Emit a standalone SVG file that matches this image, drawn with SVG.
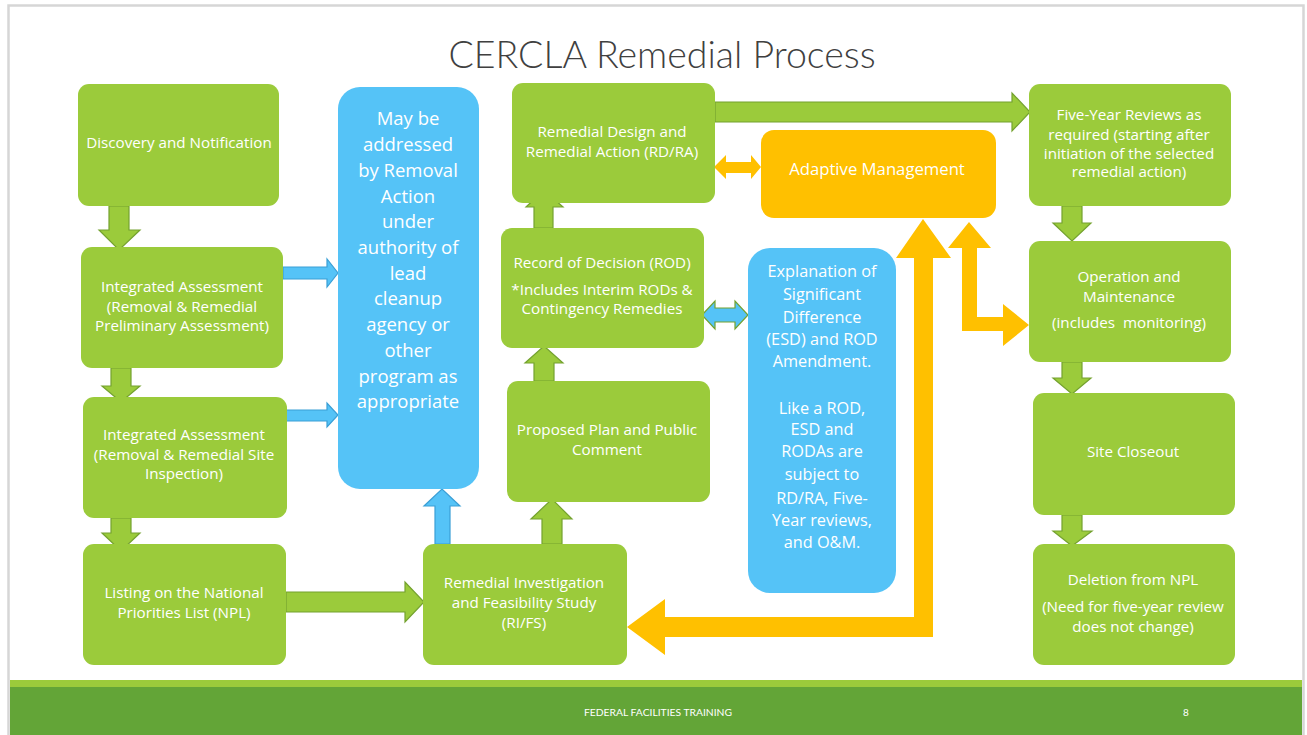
<svg xmlns="http://www.w3.org/2000/svg" width="1307" height="735" viewBox="0 0 1307 735">
  <style>
    .box { fill: #9BCB3B; }
    .blue { fill: #55C3F7; }
    .orange { fill: #FFC000; }
    .garrow { fill: #9BCB3B; stroke: #74A22F; stroke-width: 1.2; }
    .barrow { fill: #55C3F7; stroke: #3A9FD6; stroke-width: 1.2; }
    .bgarrow { fill: #55C3F7; stroke: #74A22F; stroke-width: 1.2; }
    .oarrow { fill: #FFC000; }
    text { font-family: "Open Sans", Lato, "Liberation Sans", sans-serif; fill: #FFFFFF; text-anchor: middle; }
    .t { font-size: 15.2px; }
    .tb { font-size: 18.5px; }
    .te { font-size: 16.3px; }
    .ta { font-size: 16.7px; }
    .title { font-family: Lato, "Open Sans", sans-serif; font-size: 37.5px; font-weight: 300; fill: #404040; }
    .foot { font-family: Lato, "Liberation Sans", sans-serif; font-size: 10px; }
  </style>

  <!-- slide background and frame -->
  <rect x="0" y="0" width="1307" height="735" fill="#FFFFFF"/>
  <rect x="8.5" y="5.5" width="1295" height="740" fill="#FFFFFF" stroke="#D6D6D6" stroke-width="2.5"/>

  <!-- footer band -->
  <rect x="10" y="680" width="1292" height="7" fill="#9BCB3B"/>
  <rect x="10" y="687" width="1292" height="48" fill="#63A537"/>
  <text class="foot" x="658" y="716" textLength="148" lengthAdjust="spacingAndGlyphs">FEDERAL FACILITIES TRAINING</text>
  <text class="foot" x="1186" y="716">8</text>

  <text class="title" x="662" y="68">CERCLA Remedial Process</text>

  <!-- connectors -->
  <g id="connectors">
    <!-- left column, downward -->
    <polygon class="garrow" points="109,206 129,206 129,230 140,230 119,250 99,230 109,230"/>
    <polygon class="garrow" points="111,368 131,368 131,386 140,386 121,402 102,386 111,386"/>
    <polygon class="garrow" points="111,518 131,518 131,533 140,533 121,551 102,533 111,533"/>
    <!-- assessments to removal box -->
    <polygon class="barrow" points="283,267 327,267 327,259 338,273 327,287 327,279 283,279"/>
    <polygon class="barrow" points="283,410 327,410 327,403 338,415 327,427 327,421 283,421"/>
    <!-- RI/FS up to removal box -->
    <polygon class="barrow" points="435,544 435,506 424,506 442,489 460,506 450,506 450,544"/>
    <!-- NPL listing to RI/FS -->
    <polygon class="garrow" points="286,592 405,592 405,582 424,602 405,622 405,612 286,612"/>
    <!-- RI/FS up to proposed plan -->
    <polygon class="garrow" points="542,544 542,519 531,519 552,499 572,519 562,519 562,544"/>
    <!-- proposed plan up to ROD -->
    <polygon class="garrow" points="534,381 534,363 525,363 544,346 563,363 554,363 554,381"/>
    <!-- ROD up to RD/RA -->
    <polygon class="garrow" points="534,228 534,207 526,207 544,190 563,207 553,207 553,228"/>
    <!-- RD/RA to five-year reviews -->
    <polygon class="garrow" points="715,102 1012,102 1012,93 1030,112 1012,131 1012,122 715,122"/>
    <!-- right column, downward -->
    <polygon class="garrow" points="1062,206 1082,206 1082,223 1091,223 1072,241 1053,223 1062,223"/>
    <polygon class="garrow" points="1062,362 1082,362 1082,378 1091,378 1072,394 1053,378 1062,378"/>
    <polygon class="garrow" points="1062,515 1082,515 1082,531 1092,531 1072,546 1053,531 1062,531"/>
    <!-- ROD <-> ESD -->
    <polygon class="bgarrow" points="702,315 715,301 715,308 735,308 735,301 748,315 735,329 735,322 715,322 715,329"/>
    <!-- RD/RA <-> adaptive management -->
    <polygon class="oarrow" points="714,167 726,155 726,162 751,162 751,155 761,167 751,179 751,173 726,173 726,179"/>
    <!-- adaptive management loop back to RI/FS -->
    <polygon class="oarrow" points="627,627 665,599 665,617 914,617 914,258 896,258 923,219 951,258 933,258 933,637 665,637 665,655"/>
    <!-- adaptive management <-> O&M -->
    <polygon class="oarrow" points="969,222 991,248 977,248 977,317 1003,317 1003,304 1029,325 1003,346 1003,331 962,331 962,248 948,248"/>
  </g>

  <!-- nodes -->
  <g id="discovery">
    <rect class="box" x="78" y="84" width="201" height="122" rx="11"/>
    <text class="t" x="179" y="148">Discovery and Notification</text>
  </g>
  <g id="ia-pa">
    <rect class="box" x="81" y="247" width="202" height="121" rx="11"/>
    <text class="t" x="182" y="292">Integrated Assessment</text>
    <text class="t" x="182" y="312">(Removal &amp; Remedial</text>
    <text class="t" x="182" y="331">Preliminary Assessment)</text>
  </g>
  <g id="ia-si">
    <rect class="box" x="83" y="397" width="204" height="121" rx="11"/>
    <text class="t" x="184" y="440">Integrated Assessment</text>
    <text class="t" x="184" y="460">(Removal &amp; Remedial Site</text>
    <text class="t" x="184" y="479">Inspection)</text>
  </g>
  <g id="npl-listing">
    <rect class="box" x="83" y="544" width="203" height="121" rx="11"/>
    <text class="t" x="184" y="598">Listing on the National</text>
    <text class="t" x="184" y="618">Priorities List (NPL)</text>
  </g>
  <g id="removal-action">
    <rect class="blue" x="338" y="87" width="141" height="402" rx="22"/>
    <text class="tb" x="408" y="125">May be</text>
    <text class="tb" x="408" y="151">addressed</text>
    <text class="tb" x="408" y="177">by Removal</text>
    <text class="tb" x="408" y="203">Action</text>
    <text class="tb" x="408" y="228">under</text>
    <text class="tb" x="408" y="254">authority of</text>
    <text class="tb" x="408" y="280">lead</text>
    <text class="tb" x="408" y="305">cleanup</text>
    <text class="tb" x="408" y="331">agency or</text>
    <text class="tb" x="408" y="357">other</text>
    <text class="tb" x="408" y="383">program as</text>
    <text class="tb" x="408" y="408">appropriate</text>
  </g>
  <g id="rifs">
    <rect class="box" x="423" y="544" width="204" height="121" rx="11"/>
    <text class="t" x="524" y="588">Remedial Investigation</text>
    <text class="t" x="524" y="608">and Feasibility Study</text>
    <text class="t" x="524" y="628">(RI/FS)</text>
  </g>
  <g id="proposed-plan">
    <rect class="box" x="507" y="381" width="203" height="121" rx="11"/>
    <text class="t" x="607" y="435">Proposed Plan and Public</text>
    <text class="t" x="607" y="455">Comment</text>
  </g>
  <g id="rod">
    <rect class="box" x="501" y="228" width="203" height="120" rx="11"/>
    <text class="t" x="602" y="268">Record of Decision (ROD)</text>
    <text class="t" x="602" y="295">*Includes Interim RODs &amp;</text>
    <text class="t" x="602" y="314">Contingency Remedies</text>
  </g>
  <g id="rdra">
    <rect class="box" x="512" y="83" width="203" height="120" rx="11"/>
    <text class="t" x="612" y="137">Remedial Design and</text>
    <text class="t" x="612" y="157">Remedial Action (RD/RA)</text>
  </g>
  <g id="adaptive-management">
    <rect class="orange" x="761" y="130" width="235" height="88" rx="13"/>
    <text class="ta" x="877" y="175">Adaptive Management</text>
  </g>
  <g id="esd">
    <rect class="blue" x="748" y="248" width="148" height="345" rx="22"/>
    <text class="te" x="822" y="277">Explanation of</text>
    <text class="te" x="822" y="300">Significant</text>
    <text class="te" x="822" y="323">Difference</text>
    <text class="te" x="822" y="345">(ESD) and ROD</text>
    <text class="te" x="822" y="367">Amendment.</text>
    <text class="te" x="822" y="414">Like a ROD,</text>
    <text class="te" x="822" y="435">ESD and</text>
    <text class="te" x="822" y="457">RODAs are</text>
    <text class="te" x="822" y="480">subject to</text>
    <text class="te" x="822" y="504">RD/RA, Five-</text>
    <text class="te" x="822" y="526">Year reviews,</text>
    <text class="te" x="822" y="548">and O&amp;M.</text>
  </g>
  <g id="five-year-reviews">
    <rect class="box" x="1029" y="84" width="202" height="122" rx="11"/>
    <text class="t" x="1129" y="120">Five-Year Reviews as</text>
    <text class="t" x="1129" y="140">required (starting after</text>
    <text class="t" x="1129" y="159">initiation of the selected</text>
    <text class="t" x="1129" y="177">remedial action)</text>
  </g>
  <g id="operation-maintenance">
    <rect class="box" x="1029" y="241" width="202" height="121" rx="11"/>
    <text class="t" x="1129" y="282">Operation and</text>
    <text class="t" x="1129" y="302">Maintenance</text>
    <text class="t" x="1129" y="328" xml:space="preserve">(includes  monitoring)</text>
  </g>
  <g id="site-closeout">
    <rect class="box" x="1033" y="393" width="202" height="122" rx="11"/>
    <text class="t" x="1133" y="457">Site Closeout</text>
  </g>
  <g id="npl-deletion">
    <rect class="box" x="1033" y="544" width="202" height="121" rx="11"/>
    <text class="t" x="1133" y="585">Deletion from NPL</text>
    <text class="t" x="1133" y="612">(Need for five-year review</text>
    <text class="t" x="1133" y="632">does not change)</text>
  </g>
</svg>
